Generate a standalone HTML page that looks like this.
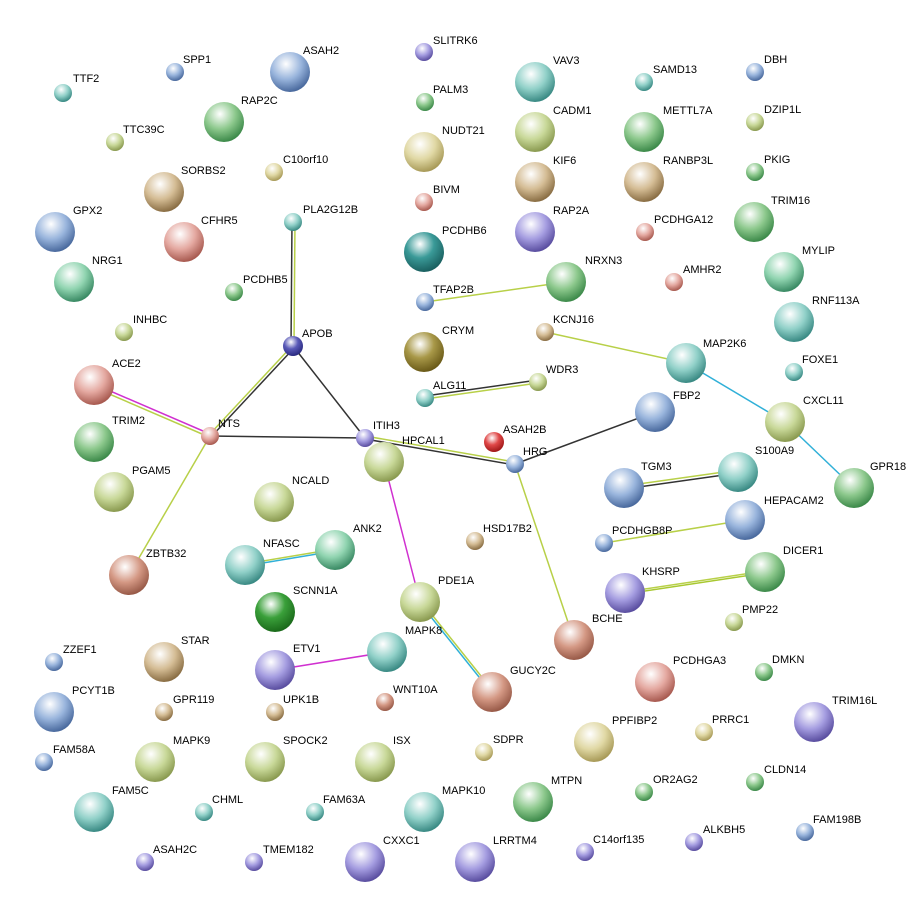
<!DOCTYPE html>
<html><head><meta charset="utf-8"><style>
html,body{margin:0;padding:0;background:#fff;}
svg{display:block}
text{font-family:"Liberation Sans",sans-serif;font-size:11px;fill:#000;}
</style></head><body>
<svg width="923" height="907" viewBox="0 0 923 907" xmlns="http://www.w3.org/2000/svg">
<defs>
<radialGradient id="gr" cx="40%" cy="30%" r="70%"><stop offset="0" stop-color="#fff"/><stop offset="0.55" stop-color="#8cc88c"/><stop offset="1" stop-color="#3d8a4a"/></radialGradient>
<radialGradient id="yg" cx="40%" cy="30%" r="70%"><stop offset="0" stop-color="#fff"/><stop offset="0.55" stop-color="#c8d898"/><stop offset="1" stop-color="#8a9a50"/></radialGradient>
<radialGradient id="tn" cx="40%" cy="30%" r="70%"><stop offset="0" stop-color="#fff"/><stop offset="0.55" stop-color="#d4bc94"/><stop offset="1" stop-color="#8a6e44"/></radialGradient>
<radialGradient id="ty" cx="40%" cy="30%" r="70%"><stop offset="0" stop-color="#fff"/><stop offset="0.55" stop-color="#e0d8a4"/><stop offset="1" stop-color="#a89a58"/></radialGradient>
<radialGradient id="bl" cx="40%" cy="30%" r="70%"><stop offset="0" stop-color="#fff"/><stop offset="0.55" stop-color="#98b4dc"/><stop offset="1" stop-color="#4a6a9e"/></radialGradient>
<radialGradient id="te" cx="40%" cy="30%" r="70%"><stop offset="0" stop-color="#fff"/><stop offset="0.55" stop-color="#90d0c8"/><stop offset="1" stop-color="#3a8a84"/></radialGradient>
<radialGradient id="tg" cx="40%" cy="30%" r="70%"><stop offset="0" stop-color="#fff"/><stop offset="0.55" stop-color="#90d4b0"/><stop offset="1" stop-color="#3a8a64"/></radialGradient>
<radialGradient id="pu" cx="40%" cy="30%" r="70%"><stop offset="0" stop-color="#fff"/><stop offset="0.55" stop-color="#a49ce0"/><stop offset="1" stop-color="#5a4ea0"/></radialGradient>
<radialGradient id="pk" cx="40%" cy="30%" r="70%"><stop offset="0" stop-color="#fff"/><stop offset="0.55" stop-color="#e4a8a0"/><stop offset="1" stop-color="#a85a50"/></radialGradient>
<radialGradient id="ol" cx="40%" cy="30%" r="70%"><stop offset="0" stop-color="#fff"/><stop offset="0.5" stop-color="#a89848"/><stop offset="1" stop-color="#6a5a18"/></radialGradient>
<radialGradient id="dt" cx="40%" cy="30%" r="70%"><stop offset="0" stop-color="#fff"/><stop offset="0.5" stop-color="#3a9a98"/><stop offset="1" stop-color="#1a6060"/></radialGradient>
<radialGradient id="db" cx="40%" cy="30%" r="70%"><stop offset="0" stop-color="#fff"/><stop offset="0.5" stop-color="#5a5ab8"/><stop offset="1" stop-color="#2a2a80"/></radialGradient>
<radialGradient id="rd" cx="40%" cy="30%" r="70%"><stop offset="0" stop-color="#fff"/><stop offset="0.5" stop-color="#e04848"/><stop offset="1" stop-color="#a01818"/></radialGradient>
<radialGradient id="dg" cx="40%" cy="30%" r="70%"><stop offset="0" stop-color="#fff"/><stop offset="0.5" stop-color="#3aa03a"/><stop offset="1" stop-color="#1a6a1a"/></radialGradient>
<radialGradient id="pr" cx="40%" cy="30%" r="70%"><stop offset="0" stop-color="#fff"/><stop offset="0.55" stop-color="#d49884"/><stop offset="1" stop-color="#985a48"/></radialGradient>
</defs>
<g stroke-width="1.5" fill="none">
<line x1="292" y1="222" x2="291" y2="346" stroke="#333"/><line x1="295" y1="222" x2="294" y2="346" stroke="#b8d048"/>
<line x1="292" y1="346" x2="209" y2="435" stroke="#b8d048"/><line x1="294" y1="348" x2="211" y2="437" stroke="#333"/>
<line x1="293" y1="346" x2="365" y2="438" stroke="#333"/>
<line x1="210" y1="436" x2="365" y2="438" stroke="#333"/>
<line x1="94" y1="384" x2="210" y2="434" stroke="#d030d0"/><line x1="93" y1="387" x2="209" y2="437" stroke="#b8d048"/>
<line x1="210" y1="436" x2="129" y2="575" stroke="#b8d048"/>
<line x1="365" y1="436" x2="515" y2="462" stroke="#b8d048"/><line x1="365" y1="439" x2="515" y2="465" stroke="#333"/>
<line x1="515" y1="464" x2="655" y2="412" stroke="#333"/>
<line x1="515" y1="464" x2="574" y2="640" stroke="#b8d048"/>
<line x1="425" y1="302" x2="566" y2="282" stroke="#b8d048"/>
<line x1="545" y1="332" x2="686" y2="363" stroke="#b8d048"/>
<line x1="686" y1="363" x2="785" y2="422" stroke="#30b0d8"/>
<line x1="785" y1="422" x2="854" y2="488" stroke="#30b0d8"/>
<line x1="425" y1="396" x2="538" y2="380" stroke="#333"/><line x1="425" y1="399" x2="538" y2="383" stroke="#b8d048"/>
<line x1="624" y1="486" x2="738" y2="470" stroke="#b8d048"/><line x1="624" y1="489" x2="738" y2="473" stroke="#333"/>
<line x1="604" y1="543" x2="745" y2="520" stroke="#b8d048"/>
<line x1="625" y1="592" x2="765" y2="571" stroke="#b8d048"/><line x1="625" y1="594" x2="765" y2="573" stroke="#a8c830"/>
<line x1="245" y1="564" x2="335" y2="549" stroke="#b8d048"/><line x1="245" y1="566" x2="335" y2="551" stroke="#30b0d8"/>
<line x1="384" y1="462" x2="420" y2="602" stroke="#d030d0"/>
<line x1="419" y1="602" x2="491" y2="692" stroke="#30b0d8"/><line x1="421" y1="601" x2="493" y2="691" stroke="#b8d048"/>
<line x1="275" y1="670" x2="387" y2="652" stroke="#d030d0"/>
</g>
<g stroke="none">
<circle cx="63" cy="93" r="9" fill="url(#te)"/><circle cx="175" cy="72" r="9" fill="url(#bl)"/><circle cx="290" cy="72" r="20" fill="url(#bl)"/>
<circle cx="424" cy="52" r="9" fill="url(#pu)"/><circle cx="535" cy="82" r="20" fill="url(#te)"/><circle cx="644" cy="82" r="9" fill="url(#te)"/>
<circle cx="755" cy="72" r="9" fill="url(#bl)"/><circle cx="425" cy="102" r="9" fill="url(#gr)"/><circle cx="224" cy="122" r="20" fill="url(#gr)"/>
<circle cx="115" cy="142" r="9" fill="url(#yg)"/><circle cx="535" cy="132" r="20" fill="url(#yg)"/><circle cx="644" cy="132" r="20" fill="url(#gr)"/>
<circle cx="755" cy="122" r="9" fill="url(#yg)"/><circle cx="424" cy="152" r="20" fill="url(#ty)"/><circle cx="274" cy="172" r="9" fill="url(#ty)"/>
<circle cx="535" cy="182" r="20" fill="url(#tn)"/><circle cx="644" cy="182" r="20" fill="url(#tn)"/><circle cx="755" cy="172" r="9" fill="url(#gr)"/>
<circle cx="164" cy="192" r="20" fill="url(#tn)"/><circle cx="424" cy="202" r="9" fill="url(#pk)"/><circle cx="55" cy="232" r="20" fill="url(#bl)"/>
<circle cx="184" cy="242" r="20" fill="url(#pk)"/><circle cx="293" cy="222" r="9" fill="url(#te)"/><circle cx="535" cy="232" r="20" fill="url(#pu)"/>
<circle cx="645" cy="232" r="9" fill="url(#pk)"/><circle cx="754" cy="222" r="20" fill="url(#gr)"/><circle cx="424" cy="252" r="20" fill="url(#dt)"/>
<circle cx="74" cy="282" r="20" fill="url(#tg)"/><circle cx="234" cy="292" r="9" fill="url(#gr)"/><circle cx="566" cy="282" r="20" fill="url(#gr)"/>
<circle cx="674" cy="282" r="9" fill="url(#pk)"/><circle cx="784" cy="272" r="20" fill="url(#tg)"/><circle cx="425" cy="302" r="9" fill="url(#bl)"/>
<circle cx="794" cy="322" r="20" fill="url(#te)"/><circle cx="124" cy="332" r="9" fill="url(#yg)"/><circle cx="424" cy="352" r="20" fill="url(#ol)"/>
<circle cx="545" cy="332" r="9" fill="url(#tn)"/><circle cx="293" cy="346" r="10" fill="url(#db)"/><circle cx="686" cy="363" r="20" fill="url(#te)"/>
<circle cx="94" cy="385" r="20" fill="url(#pk)"/><circle cx="794" cy="372" r="9" fill="url(#te)"/><circle cx="538" cy="382" r="9" fill="url(#yg)"/>
<circle cx="425" cy="398" r="9" fill="url(#te)"/><circle cx="785" cy="422" r="20" fill="url(#yg)"/><circle cx="655" cy="412" r="20" fill="url(#bl)"/>
<circle cx="210" cy="436" r="9" fill="url(#pk)"/><circle cx="365" cy="438" r="9" fill="url(#pu)"/><circle cx="494" cy="442" r="10" fill="url(#rd)"/>
<circle cx="94" cy="442" r="20" fill="url(#gr)"/><circle cx="738" cy="472" r="20" fill="url(#te)"/><circle cx="515" cy="464" r="9" fill="url(#bl)"/>
<circle cx="384" cy="462" r="20" fill="url(#yg)"/><circle cx="854" cy="488" r="20" fill="url(#gr)"/><circle cx="114" cy="492" r="20" fill="url(#yg)"/>
<circle cx="274" cy="502" r="20" fill="url(#yg)"/><circle cx="624" cy="488" r="20" fill="url(#bl)"/><circle cx="745" cy="520" r="20" fill="url(#bl)"/>
<circle cx="475" cy="541" r="9" fill="url(#tn)"/><circle cx="335" cy="550" r="20" fill="url(#tg)"/><circle cx="245" cy="565" r="20" fill="url(#te)"/>
<circle cx="604" cy="543" r="9" fill="url(#bl)"/><circle cx="129" cy="575" r="20" fill="url(#pr)"/><circle cx="765" cy="572" r="20" fill="url(#gr)"/>
<circle cx="625" cy="593" r="20" fill="url(#pu)"/><circle cx="275" cy="612" r="20" fill="url(#dg)"/><circle cx="420" cy="602" r="20" fill="url(#yg)"/>
<circle cx="574" cy="640" r="20" fill="url(#pr)"/><circle cx="734" cy="622" r="9" fill="url(#yg)"/><circle cx="387" cy="652" r="20" fill="url(#te)"/>
<circle cx="164" cy="662" r="20" fill="url(#tn)"/><circle cx="54" cy="662" r="9" fill="url(#bl)"/><circle cx="275" cy="670" r="20" fill="url(#pu)"/>
<circle cx="655" cy="682" r="20" fill="url(#pk)"/><circle cx="764" cy="672" r="9" fill="url(#gr)"/><circle cx="492" cy="692" r="20" fill="url(#pr)"/>
<circle cx="54" cy="712" r="20" fill="url(#bl)"/><circle cx="164" cy="712" r="9" fill="url(#tn)"/><circle cx="275" cy="712" r="9" fill="url(#tn)"/>
<circle cx="385" cy="702" r="9" fill="url(#pr)"/><circle cx="814" cy="722" r="20" fill="url(#pu)"/><circle cx="704" cy="732" r="9" fill="url(#ty)"/>
<circle cx="594" cy="742" r="20" fill="url(#ty)"/><circle cx="155" cy="762" r="20" fill="url(#yg)"/><circle cx="265" cy="762" r="20" fill="url(#yg)"/>
<circle cx="375" cy="762" r="20" fill="url(#yg)"/><circle cx="484" cy="752" r="9" fill="url(#ty)"/><circle cx="44" cy="762" r="9" fill="url(#bl)"/>
<circle cx="644" cy="792" r="9" fill="url(#gr)"/><circle cx="755" cy="782" r="9" fill="url(#gr)"/><circle cx="533" cy="802" r="20" fill="url(#gr)"/>
<circle cx="94" cy="812" r="20" fill="url(#te)"/><circle cx="204" cy="812" r="9" fill="url(#te)"/><circle cx="315" cy="812" r="9" fill="url(#te)"/>
<circle cx="424" cy="812" r="20" fill="url(#te)"/><circle cx="694" cy="842" r="9" fill="url(#pu)"/><circle cx="805" cy="832" r="9" fill="url(#bl)"/>
<circle cx="585" cy="852" r="9" fill="url(#pu)"/><circle cx="145" cy="862" r="9" fill="url(#pu)"/><circle cx="254" cy="862" r="9" fill="url(#pu)"/>
<circle cx="365" cy="862" r="20" fill="url(#pu)"/><circle cx="475" cy="862" r="20" fill="url(#pu)"/>
</g>
<g>
<text x="73" y="82">TTF2</text><text x="183" y="63">SPP1</text><text x="303" y="54">ASAH2</text><text x="433" y="44">SLITRK6</text>
<text x="553" y="64">VAV3</text><text x="653" y="73">SAMD13</text><text x="764" y="63">DBH</text><text x="433" y="93">PALM3</text>
<text x="241" y="104">RAP2C</text><text x="123" y="133">TTC39C</text><text x="553" y="114">CADM1</text><text x="663" y="114">METTL7A</text>
<text x="764" y="113">DZIP1L</text><text x="442" y="134">NUDT21</text><text x="283" y="163">C10orf10</text><text x="553" y="164">KIF6</text>
<text x="663" y="164">RANBP3L</text><text x="764" y="163">PKIG</text><text x="181" y="174">SORBS2</text><text x="433" y="193">BIVM</text>
<text x="73" y="214">GPX2</text><text x="201" y="224">CFHR5</text><text x="303" y="213">PLA2G12B</text><text x="553" y="214">RAP2A</text>
<text x="654" y="223">PCDHGA12</text><text x="771" y="204">TRIM16</text><text x="442" y="234">PCDHB6</text><text x="92" y="264">NRG1</text>
<text x="243" y="283">PCDHB5</text><text x="585" y="264">NRXN3</text><text x="683" y="273">AMHR2</text><text x="802" y="254">MYLIP</text>
<text x="433" y="293">TFAP2B</text><text x="812" y="304">RNF113A</text><text x="133" y="323">INHBC</text><text x="442" y="334">CRYM</text>
<text x="553" y="323">KCNJ16</text><text x="302" y="337">APOB</text><text x="703" y="347">MAP2K6</text><text x="112" y="367">ACE2</text>
<text x="802" y="363">FOXE1</text><text x="546" y="373">WDR3</text><text x="433" y="389">ALG11</text><text x="803" y="404">CXCL11</text>
<text x="673" y="399">FBP2</text><text x="218" y="427">NTS</text><text x="373" y="429">ITIH3</text><text x="503" y="433">ASAH2B</text>
<text x="112" y="424">TRIM2</text><text x="755" y="454">S100A9</text><text x="523" y="455">HRG</text><text x="402" y="444">HPCAL1</text>
<text x="870" y="470">GPR18</text><text x="132" y="474">PGAM5</text><text x="292" y="484">NCALD</text><text x="641" y="470">TGM3</text>
<text x="764" y="504">HEPACAM2</text><text x="483" y="532">HSD17B2</text><text x="353" y="532">ANK2</text><text x="263" y="547">NFASC</text>
<text x="612" y="534">PCDHGB8P</text><text x="146" y="557">ZBTB32</text><text x="783" y="554">DICER1</text><text x="642" y="575">KHSRP</text>
<text x="293" y="594">SCNN1A</text><text x="438" y="584">PDE1A</text><text x="592" y="622">BCHE</text><text x="742" y="613">PMP22</text>
<text x="405" y="634">MAPK8</text><text x="181" y="644">STAR</text><text x="63" y="653">ZZEF1</text><text x="293" y="652">ETV1</text>
<text x="673" y="664">PCDHGA3</text><text x="772" y="663">DMKN</text><text x="510" y="674">GUCY2C</text><text x="72" y="694">PCYT1B</text>
<text x="173" y="703">GPR119</text><text x="283" y="703">UPK1B</text><text x="393" y="693">WNT10A</text><text x="832" y="704">TRIM16L</text>
<text x="712" y="723">PRRC1</text><text x="612" y="724">PPFIBP2</text><text x="173" y="744">MAPK9</text><text x="283" y="744">SPOCK2</text>
<text x="393" y="744">ISX</text><text x="493" y="743">SDPR</text><text x="53" y="753">FAM58A</text><text x="653" y="783">OR2AG2</text>
<text x="764" y="773">CLDN14</text><text x="551" y="784">MTPN</text><text x="112" y="794">FAM5C</text><text x="212" y="803">CHML</text>
<text x="323" y="803">FAM63A</text><text x="442" y="794">MAPK10</text><text x="703" y="833">ALKBH5</text><text x="813" y="823">FAM198B</text>
<text x="593" y="843">C14orf135</text><text x="153" y="853">ASAH2C</text><text x="263" y="853">TMEM182</text><text x="383" y="844">CXXC1</text>
<text x="493" y="844">LRRTM4</text>
</g>
</svg>
</body></html>
